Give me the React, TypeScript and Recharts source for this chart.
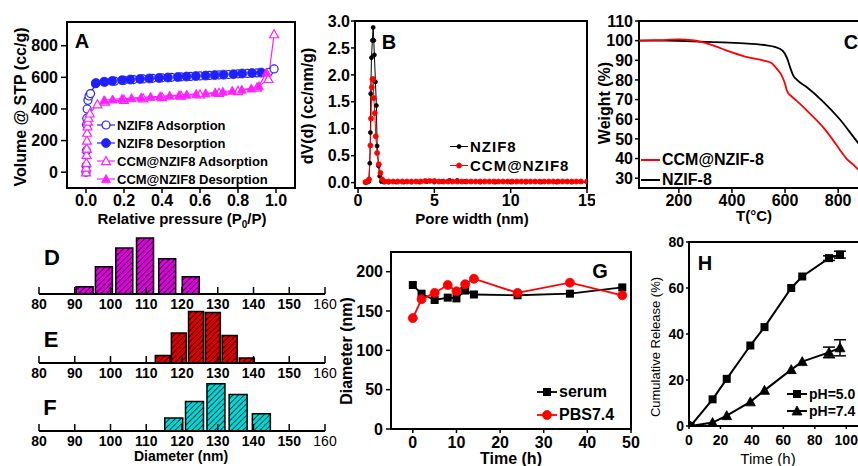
import React from "react";
import { LineChart, BarChart, Line, Bar, XAxis, YAxis, ReferenceArea, ErrorBar } from "recharts";

const FONT = "'Liberation Sans', Arial, Helvetica, sans-serif";
const BLUE = "#2020ff";
const PINK = "#ff20ff";
const RED = "#ff0000";

// A: N2 sorption isotherms [P/P0, volume]
const nzifAds = [[0, 0], [0.001, 40], [0.002, 135], [0.003, 300], [0.004, 340], [0.006, 400], [0.01, 455], [0.016, 482], [0.024, 497], [0.05, 560], [0.1, 570], [0.15, 576], [0.2, 581], [0.25, 586], [0.3, 590], [0.35, 594], [0.4, 597], [0.45, 600], [0.5, 603], [0.55, 606], [0.6, 609], [0.65, 612], [0.7, 615], [0.75, 618], [0.8, 622], [0.85, 625], [0.9, 628], [0.96, 632], [0.99, 653]];
const nzifDes = [[0.052, 564], [0.095, 572], [0.138, 577], [0.19, 582], [0.233, 586], [0.284, 590], [0.333, 593], [0.384, 596], [0.431, 599], [0.483, 602], [0.529, 605], [0.578, 608], [0.629, 611], [0.677, 614], [0.724, 617], [0.776, 620], [0.822, 624], [0.874, 627], [0.922, 630]];
const ccmAds = [[0, 0], [0.001, 30], [0.002, 60], [0.003, 110], [0.004, 150], [0.005, 200], [0.006, 250], [0.008, 290], [0.01, 320], [0.013, 345], [0.02, 372], [0.06, 430], [0.1, 447], [0.2, 458], [0.3, 468], [0.4, 476], [0.5, 484], [0.6, 492], [0.7, 502], [0.8, 514], [0.9, 535], [0.96, 590], [0.99, 873]];
const ccmDes = [[0.095, 455], [0.14, 460], [0.19, 465], [0.24, 469], [0.29, 473], [0.34, 477], [0.39, 480], [0.44, 484], [0.49, 487], [0.53, 491], [0.58, 495], [0.63, 499], [0.68, 504], [0.72, 509], [0.77, 515], [0.82, 522], [0.87, 530], [0.91, 545], [0.95, 630]];

// B: pore size distribution [nm, dV(d)]
const nzifPore = [[0.5, 0], [0.6, 0.01], [0.7, 0.02], [0.77, 0.36], [0.81, 0.93], [0.83, 1.65], [0.88, 2.32], [0.94, 2.64], [0.99, 2.88], [1.03, 2.64], [1.07, 2.37], [1.14, 1.87], [1.2, 1.43], [1.25, 0.68], [1.34, 0.31], [1.42, 0.12], [1.53, 0.02], [1.7, 0.01], [2, 0.01], [2.5, 0.01], [3, 0.01], [3.5, 0.01], [4, 0.01], [4.5, 0.02], [5, 0.01], [5.5, 0.02], [6, 0.04], [6.5, 0.04], [7, 0.02], [8, 0.01], [9, 0.01], [10, 0.01], [11, 0.01], [12, 0.01], [13, 0.01], [14, 0.01], [15, 0.01]];
const ccmPore = [[0.48, 0.01], [0.61, 0.02], [0.72, 0.06], [0.81, 0.69], [0.85, 1.19], [0.9, 1.77], [0.94, 1.92], [0.99, 1.92], [1.03, 1.57], [1.1, 1.29], [1.16, 0.86], [1.25, 0.55], [1.36, 0.34], [1.47, 0.18], [1.58, 0.06], [1.75, 0.02], [2.0, 0.02], [2.3, 0.02], [2.6, 0.02], [2.9, 0.02], [3.2, 0.02], [3.5, 0.02], [3.8, 0.02], [4.1, 0.02], [4.4, 0.03], [4.7, 0.03], [5.0, 0.03], [5.3, 0.02], [5.6, 0.02], [5.9, 0.02], [6.2, 0.02], [6.5, 0.02], [6.8, 0.02], [7.1, 0.02], [7.4, 0.02], [7.7, 0.02], [8.0, 0.02], [8.3, 0.02], [8.6, 0.02], [8.9, 0.02], [9.2, 0.02], [9.5, 0.02], [9.8, 0.02], [10.1, 0.02], [10.4, 0.02], [10.7, 0.02], [11.0, 0.02], [11.3, 0.02], [11.6, 0.02], [11.9, 0.02], [12.2, 0.02], [12.5, 0.02], [12.8, 0.02], [13.1, 0.02], [13.4, 0.02], [13.7, 0.02], [14.0, 0.02], [14.3, 0.02], [14.6, 0.02], [15.0, 0.02]];

// C: TGA [°C, weight %]
const nzifTga = [[50, 100], [150, 100], [250, 99.7], [300, 99.4], [366, 99.1], [430, 98.7], [492, 98.2], [530, 97.6], [561, 96.8], [590, 95], [608, 91], [620, 86], [630, 82.5], [645, 80], [680, 76.5], [743, 69], [806, 60], [875, 48], [900, 44]];
const ccmTga = [[50, 100], [130, 100.3], [200, 100.6], [250, 100.2], [280, 99.5], [320, 98], [360, 96], [400, 94], [440, 92.3], [480, 91], [520, 89.8], [550, 88.5], [567, 86], [586, 82.6], [599, 78.4], [608, 74.2], [624, 71.7], [643, 69.5], [693, 63], [743, 56], [780, 49.5], [806, 44.5], [831, 40], [856, 37], [875, 34.5], [900, 32.5]];

// D-F: size histograms [diameter bin centre, frequency]
const histD = [[92.8, 1.8], [98.2, 6.8], [103.9, 11.5], [109.7, 14], [115.9, 8.8], [122.5, 4.3]];
const histE = [[114.5, 1.9], [119, 7.5], [123.8, 12.9], [128.5, 12.65], [133.2, 6.9], [138, 1.25]];
const histF = [[117.8, 3.25], [123.6, 7.4], [129.6, 11.8], [135.8, 9.1], [142.3, 4.3]];
const histTicks = [80, 90, 100, 110, 120, 130, 140, 150, 160];

// G: stability [h, nm]
const serum = [[0, 183], [2, 172], [5, 164], [8, 167], [10, 166], [12, 176], [14, 171], [24, 170], [36, 172], [48, 180]];
const pbs = [[0, 141], [2, 165], [5, 173], [8, 183], [10, 175], [12, 184], [14, 191], [24, 173], [36, 186], [48, 170]];

// H: release [h, %, error]
const ph50 = [[1, 0], [15, 11.6], [24, 20.5], [39, 35], [48, 43], [65, 60], [72, 65], [89, 73, 1], [96, 74.5, 1.5]];
const ph74 = [[1, 0], [15, 1.5], [24, 4.5], [39, 10.5], [48, 15.5], [65, 24.5], [72, 28], [89, 32, 2.3], [96, 34, 3.5]];

const toXY = (rows: number[][]) => rows.map(([x, y, e]) => ({ x, y, e }));

type Kind = "circle" | "circleOpen" | "tri" | "triOpen" | "square";

function Marker({ kind, cx, cy, s, color }: { kind: Kind; cx: number; cy: number; s: number; color: string }) {
  const h = s / 2;
  const tri = `${cx},${cy - h} ${cx + h},${cy + h * 0.8} ${cx - h},${cy + h * 0.8}`;
  switch (kind) {
    case "circle":
      return <circle cx={cx} cy={cy} r={h} fill={color} stroke={color} strokeWidth={0.8} />;
    case "circleOpen":
      return <circle cx={cx} cy={cy} r={h} fill="#fff" stroke={color} strokeWidth={1.2} />;
    case "tri":
      return <polygon points={tri} fill={color} stroke={color} strokeWidth={0.8} />;
    case "triOpen":
      return <polygon points={tri} fill="#fff" stroke={color} strokeWidth={1.2} />;
    default:
      return <rect x={cx - h} y={cy - h} width={s} height={s} fill={color} />;
  }
}

const dot = (kind: Kind, s: number, color: string) => (p: any) =>
  p.cx == null ? <g key={p.index} /> : <Marker key={p.index} kind={kind} cx={p.cx} cy={p.cy} s={s} color={color} />;

function Txt({ x, y, size = 16, weight = 700, rotate = false, children }: any) {
  return (
    <div
      style={{
        position: "absolute",
        left: x,
        top: y,
        transform: `translate(-50%, -50%)${rotate ? " rotate(-90deg)" : ""}`,
        fontSize: size,
        fontWeight: weight,
        whiteSpace: "nowrap",
        lineHeight: 1,
      }}
    >
      {children}
    </div>
  );
}

function Key({ x, y, w, kind, color, s = 8, label, size = 14, lw = 1.5, spacing = 0 }: any) {
  return (
    <div
      style={{
        position: "absolute",
        left: x,
        top: y,
        transform: "translateY(-50%)",
        display: "flex",
        alignItems: "center",
        fontSize: size,
        fontWeight: 700,
        whiteSpace: "nowrap",
        lineHeight: 1,
      }}
    >
      <svg width={w} height={14} style={{ display: "block" }}>
        <line x1={0} y1={7} x2={w} y2={7} stroke={color} strokeWidth={lw} />
        {kind && <Marker kind={kind} cx={w / 2} cy={7} s={s} color={color} />}
      </svg>
      <span style={{ marginLeft: 2, letterSpacing: spacing }}>{label}</span>
    </div>
  );
}

const tickBold = (size: number) => ({ fontSize: size, fontWeight: 700, fill: "#000", fontFamily: FONT });
const tickLine = { stroke: "#000", strokeWidth: 1.5 };

function Hist({ top, data, fill, barSize }: { top: number; data: number[][]; fill: string; barSize: number }) {
  const histTick = (p: any) => (
    <text x={p.x} y={p.y} dy="0.71em" textAnchor="middle" fontSize={14} fontFamily={FONT} fill="#000" fontWeight={p.payload.value === 160 ? 400 : 700}>
      {p.payload.value}
    </text>
  );
  return (
    <div style={{ position: "absolute", left: 0, top }}>
      <BarChart width={350} height={84} data={toXY(data)} margin={{ top: 0, right: 25, bottom: 0, left: 39 }}>
        <XAxis type="number" dataKey="x" domain={[80, 160]} ticks={histTicks} interval={0} allowDataOverflow height={20} tick={histTick} tickSize={-7} tickMargin={12} axisLine={{ stroke: "#000", strokeWidth: 2 }} tickLine={tickLine} />
        <YAxis hide domain={[0, 16]} />
        <Bar dataKey="y" barSize={barSize} fill={fill} stroke="#000" strokeWidth={1.5} isAnimationActive={false} />
      </BarChart>
    </div>
  );
}

function Hatch({ id, color }: { id: string; color: string }) {
  return (
    <pattern id={id} patternUnits="userSpaceOnUse" width={4} height={4} patternTransform="rotate(45)">
      <rect width={4} height={4} fill={color} />
      <line x1={0} y1={0} x2={0} y2={4} stroke="#000" strokeWidth={1.4} />
    </pattern>
  );
}

export default function App() {
  return (
    <div style={{ position: "fixed", left: 0, top: 0, width: 858, height: 466, overflow: "hidden", background: "#fff", fontFamily: FONT, color: "#000" }}>
      <svg width={0} height={0} style={{ position: "absolute" }}>
        <defs>
          <Hatch id="hatchD" color="#e000e0" />
          <Hatch id="hatchE" color="#e00000" />
          <Hatch id="hatchF" color="#00d8d8" />
        </defs>
      </svg>

      {/* A */}
      <div style={{ position: "absolute", left: 0, top: 0 }}>
        <LineChart width={300} height={215} margin={{ top: 22, right: 5, bottom: 0, left: 0 }}>
          <XAxis type="number" dataKey="x" domain={[-0.1, 1.1]} ticks={[0, 0.2, 0.4, 0.6, 0.8, 1]} interval={0} tickFormatter={(v) => v.toFixed(1)} allowDataOverflow height={27} tick={tickBold(16)} tickSize={5} tickMargin={2} axisLine={false} tickLine={tickLine} />
          <YAxis type="number" domain={[-100, 950]} ticks={[0, 200, 400, 600, 800]} interval={0} allowDataOverflow width={67} tick={tickBold(16)} tickSize={6} tickMargin={3} axisLine={false} tickLine={tickLine} />
          <Line data={toXY(nzifAds)} dataKey="y" stroke={BLUE} strokeWidth={1.2} dot={dot("circleOpen", 8, BLUE)} activeDot={false} isAnimationActive={false} />
          <Line data={toXY(nzifDes)} dataKey="y" stroke={BLUE} strokeWidth={1.2} dot={dot("circle", 9, BLUE)} activeDot={false} isAnimationActive={false} />
          <Line data={toXY(ccmAds)} dataKey="y" stroke={PINK} strokeWidth={1.2} dot={dot("triOpen", 9, PINK)} activeDot={false} isAnimationActive={false} />
          <Line data={toXY(ccmDes)} dataKey="y" stroke={PINK} strokeWidth={1.2} dot={dot("tri", 9, PINK)} activeDot={false} isAnimationActive={false} />
          <ReferenceArea x1={-0.1} x2={1.1} y1={-100} y2={950} fill="none" stroke="#000" strokeWidth={2} ifOverflow="visible" />
        </LineChart>
      </div>
      <Txt x={82} y={41} size={20}>A</Txt>
      <Txt x={21} y={107} rotate>Volume @ STP (cc/g)</Txt>
      <Txt x={182} y={220} size={15}>
        Relative pressure (P<sub style={{ fontSize: 10 }}>0</sub>/P)
      </Txt>
      <Key x={97} y={125} w={18} kind="circleOpen" color={BLUE} s={8} label="NZIF8 Adsorption" size={13} lw={1.2} />
      <Key x={97} y={143} w={18} kind="circle" color={BLUE} s={9} label="NZIF8 Desorption" size={13} lw={1.2} />
      <Key x={97} y={161} w={18} kind="triOpen" color={PINK} s={9} label="CCM@NZIF8 Adsorption" size={13} lw={1.2} />
      <Key x={97} y={179} w={18} kind="tri" color={PINK} s={9} label="CCM@NZIF8 Desorption" size={13} lw={1.2} />

      {/* B */}
      <div style={{ position: "absolute", left: 295, top: 0 }}>
        <LineChart width={300} height={215} margin={{ top: 21, right: 8, bottom: 0, left: 0 }}>
          <XAxis type="number" dataKey="x" domain={[-0.2, 15]} ticks={[0, 5, 10, 15]} interval={0} allowDataOverflow height={27} tick={tickBold(16)} tickSize={5} tickMargin={2} axisLine={false} tickLine={tickLine} />
          <YAxis type="number" domain={[-0.1, 3]} ticks={[0, 0.5, 1, 1.5, 2, 2.5, 3]} interval={0} tickFormatter={(v) => v.toFixed(1)} allowDataOverflow width={60} tick={tickBold(16)} tickSize={4} tickMargin={1} axisLine={false} tickLine={tickLine} />
          <Line data={toXY(nzifPore)} dataKey="y" stroke="#000" strokeWidth={1} dot={dot("circle", 4, "#000")} activeDot={false} isAnimationActive={false} />
          <Line data={toXY(ccmPore)} dataKey="y" stroke={RED} strokeWidth={1} dot={dot("circle", 5, RED)} activeDot={false} isAnimationActive={false} />
          <ReferenceArea x1={-0.2} x2={15} y1={-0.1} y2={3} fill="none" stroke="#000" strokeWidth={2} ifOverflow="visible" />
        </LineChart>
      </div>
      <Txt x={389} y={42} size={20}>B</Txt>
      <Txt x={308} y={106} rotate>dV(d) (cc/nm/g)</Txt>
      <Txt x={472} y={218} size={15}>Pore width (nm)</Txt>
      <Key x={450} y={146} w={18} kind="circle" color="#000" s={4} label="NZIF8" size={15} lw={1} spacing={1} />
      <Key x={450} y={165} w={18} kind="circle" color={RED} s={5} label="CCM@NZIF8" size={15} lw={1} spacing={1} />

      {/* C */}
      <div style={{ position: "absolute", left: 590, top: 0 }}>
        <LineChart width={300} height={215} margin={{ top: 21, right: 12, bottom: 0, left: 0 }}>
          <XAxis type="number" dataKey="x" domain={[50, 950]} ticks={[200, 400, 600, 800]} interval={0} allowDataOverflow height={27} tick={tickBold(16)} tickSize={5} tickMargin={2} axisLine={false} tickLine={tickLine} />
          <YAxis type="number" domain={[25, 110]} ticks={[30, 40, 50, 60, 70, 80, 90, 100, 110]} interval={0} allowDataOverflow width={49} tick={tickBold(16)} tickSize={4} tickMargin={2} axisLine={false} tickLine={tickLine} />
          <Line data={toXY(nzifTga)} dataKey="y" type="monotone" stroke="#000" strokeWidth={1.8} dot={false} activeDot={false} isAnimationActive={false} />
          <Line data={toXY(ccmTga)} dataKey="y" type="monotone" stroke={RED} strokeWidth={1.8} dot={false} activeDot={false} isAnimationActive={false} />
          <ReferenceArea x1={50} x2={950} y1={25} y2={110} fill="none" stroke="#000" strokeWidth={2} ifOverflow="visible" />
        </LineChart>
      </div>
      <Txt x={851} y={42} size={20}>C</Txt>
      <Txt x={605} y={103} rotate>Weight (%)</Txt>
      <Txt x={754} y={215} size={15}>T(°C)</Txt>
      <Key x={641} y={160} w={19} color={RED} label="CCM@NZIF-8" size={16} lw={2} />
      <Key x={641} y={180} w={19} color="#000" label="NZIF-8" size={16} lw={2} />

      {/* D-F */}
      <Hist top={230} data={histD} fill="url(#hatchD)" barSize={17} />
      <Hist top={299} data={histE} fill="url(#hatchE)" barSize={15} />
      <Hist top={367} data={histF} fill="url(#hatchF)" barSize={18} />
      <Txt x={52} y={258} size={22}>D</Txt>
      <Txt x={51} y={340} size={22}>E</Txt>
      <Txt x={50} y={408} size={22}>F</Txt>
      <Txt x={181} y={456} size={14}>Diameter (nm)</Txt>

      {/* G */}
      <div style={{ position: "absolute", left: 330, top: 240 }}>
        <LineChart width={315} height={220} margin={{ top: 12, right: 14, bottom: 0, left: 0 }}>
          <XAxis type="number" dataKey="x" domain={[-5, 50]} ticks={[0, 10, 20, 30, 40, 50]} interval={0} allowDataOverflow height={31} tick={tickBold(16)} tickSize={4} tickMargin={4} axisLine={false} tickLine={tickLine} />
          <YAxis type="number" domain={[0, 225]} ticks={[0, 50, 100, 150, 200]} interval={0} allowDataOverflow width={61} tick={tickBold(16)} tickSize={5} tickMargin={3} axisLine={false} tickLine={tickLine} />
          <Line data={toXY(serum)} dataKey="y" stroke="#000" strokeWidth={1.8} dot={dot("square", 8, "#000")} activeDot={false} isAnimationActive={false} />
          <Line data={toXY(pbs)} dataKey="y" stroke={RED} strokeWidth={1.8} dot={dot("circle", 9, RED)} activeDot={false} isAnimationActive={false} />
          <ReferenceArea x1={-5} x2={50} y1={0} y2={225} fill="none" stroke="#000" strokeWidth={2} ifOverflow="visible" />
        </LineChart>
      </div>
      <Txt x={600} y={271} size={20}>G</Txt>
      <Txt x={347} y={351} rotate>Diameter (nm)</Txt>
      <Txt x={511} y={459}>Time (h)</Txt>
      <Key x={537} y={392} w={20} kind="square" color="#000" s={8} label="serum" size={16} lw={1.8} />
      <Key x={537} y={415} w={20} kind="circle" color={RED} s={9} label="PBS7.4" size={16} lw={1.8} />

      {/* H */}
      <div style={{ position: "absolute", left: 630, top: 230 }}>
        <LineChart width={240} height={226} margin={{ top: 12, right: 8, bottom: 0, left: 0 }}>
          <XAxis type="number" dataKey="x" domain={[0, 110]} ticks={[0, 20, 40, 60, 80, 100]} interval={0} allowDataOverflow height={30} tick={tickBold(14)} tickSize={3} tickMargin={6} axisLine={false} tickLine={tickLine} />
          <YAxis type="number" domain={[0, 80]} ticks={[0, 20, 40, 60, 80]} interval={0} allowDataOverflow width={59} tick={tickBold(14)} tickSize={3} tickMargin={2} axisLine={false} tickLine={tickLine} />
          <Line data={toXY(ph50)} dataKey="y" stroke="#000" strokeWidth={2} dot={dot("square", 8, "#000")} activeDot={false} isAnimationActive={false}>
            <ErrorBar dataKey="e" width={6} stroke="#000" strokeWidth={1.5} direction="y" />
          </Line>
          <Line data={toXY(ph74)} dataKey="y" stroke="#000" strokeWidth={2} dot={dot("tri", 10, "#000")} activeDot={false} isAnimationActive={false}>
            <ErrorBar dataKey="e" width={6} stroke="#000" strokeWidth={1.5} direction="y" />
          </Line>
          <ReferenceArea x1={0} x2={110} y1={0} y2={80} fill="none" stroke="#000" strokeWidth={2} ifOverflow="visible" />
        </LineChart>
      </div>
      <Txt x={705} y={263} size={20}>H</Txt>
      <Txt x={655} y={347} size={13} weight={400} rotate>Cumulative Release (%)</Txt>
      <Txt x={768} y={458} size={15} weight={400}>Time (h)</Txt>
      <Key x={787} y={394} w={20} kind="square" color="#000" s={8} label="pH=5.0" size={14} lw={2} />
      <Key x={787} y={411} w={20} kind="tri" color="#000" s={10} label="pH=7.4" size={14} lw={2} />
    </div>
  );
}
